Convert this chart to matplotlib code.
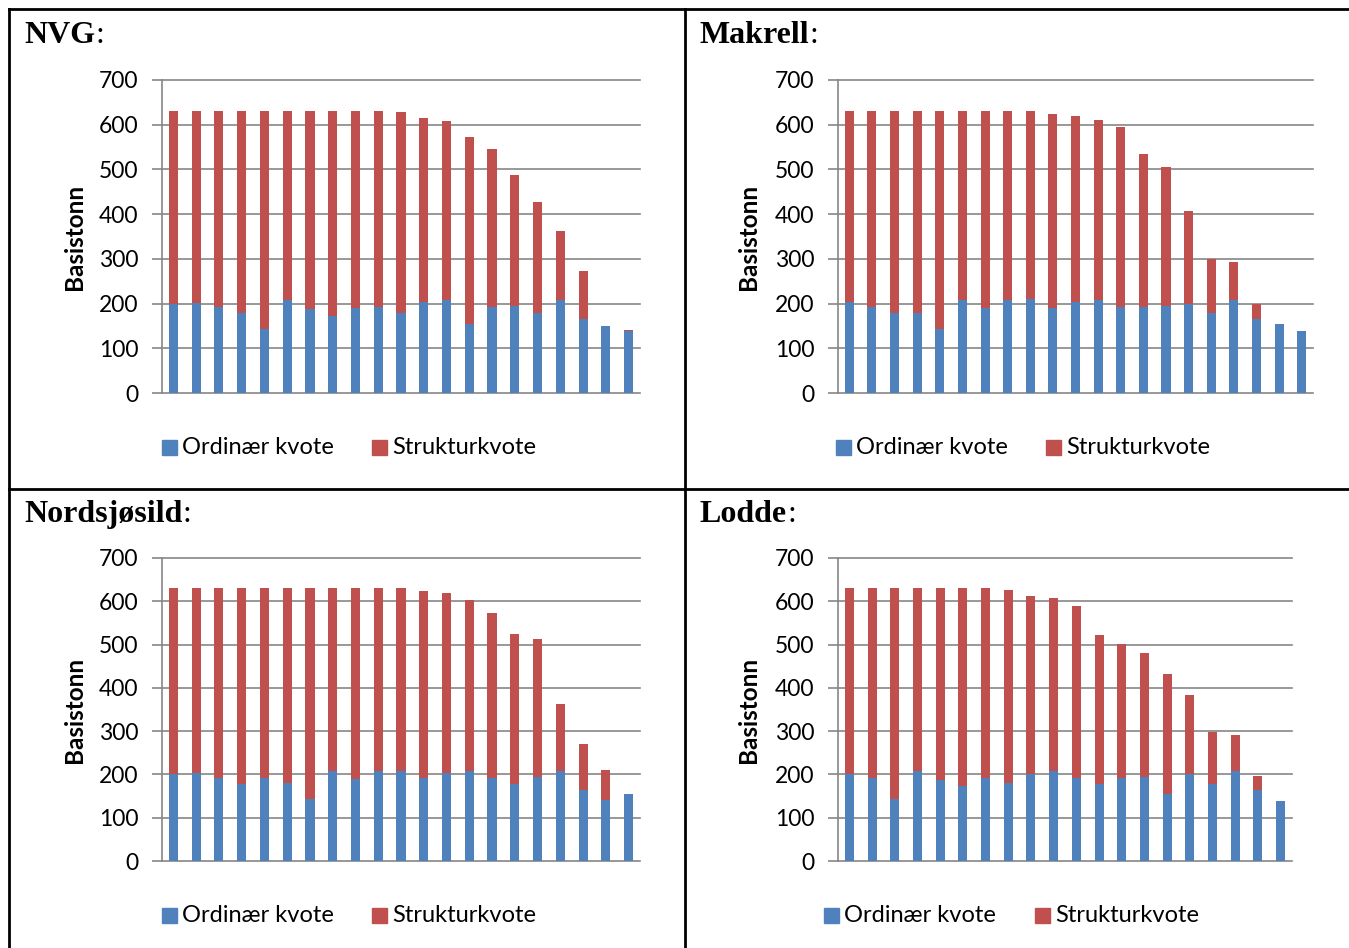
import matplotlib
matplotlib.use("Agg")
import matplotlib.pyplot as plt
from matplotlib.lines import Line2D
from matplotlib.patches import Rectangle

W, H = 1349, 948

series_names = ["Ordinær kvote", "Strukturkvote"]
colors = ["#4F81BD", "#C0504D"]
yticks = [0, 100, 200, 300, 400, 500, 600, 700]
ylabel = "Basistonn"

titles = ["NVG", "Makrell", "Nordsjøsild", "Lodde"]

nvg_ord = [198, 202, 192, 179, 144, 209, 188, 173, 190, 192, 180, 203, 209, 155, 192, 194, 179, 209, 165, 150, 138]
nvg_tot = [630, 630, 630, 630, 630, 630, 630, 630, 630, 630, 628, 614, 608, 573, 545, 488, 427, 363, 272, 150, 141]

mak_ord = [203, 192, 179, 180, 144, 209, 190, 209, 210, 190, 203, 209, 192, 192, 194, 199, 179, 209, 165, 155, 138]
mak_tot = [630, 630, 630, 630, 630, 630, 630, 630, 630, 625, 620, 611, 595, 535, 506, 407, 299, 293, 198, 155, 138]

nss_ord = [200, 203, 191, 178, 192, 181, 144, 208, 189, 208, 208, 191, 203, 208, 192, 178, 194, 208, 165, 140, 154]
nss_tot = [630, 630, 630, 630, 630, 630, 630, 630, 630, 630, 630, 624, 619, 602, 573, 524, 512, 362, 271, 210, 154]

lod_ord = [202, 191, 144, 208, 187, 174, 191, 181, 202, 208, 192, 178, 192, 194, 154, 200, 178, 208, 165, 138]
lod_tot = [630, 630, 630, 630, 630, 630, 630, 627, 613, 607, 589, 522, 502, 480, 432, 383, 299, 292, 197, 138]

panels = [
    (titles[0], nvg_ord, nvg_tot),
    (titles[1], mak_ord, mak_tot),
    (titles[2], nss_ord, nss_tot),
    (titles[3], lod_ord, lod_tot),
]

# pixel layout: (axes left, axes right, y of 700, y of 0, title x, title baseline,
#                ylabel x, legend blue x, legend red x, legend y center)
layout = [
    (162, 640, 80, 393, 24, 43, 74, 162, 372, 447),
    (838, 1313, 80, 393, 700, 43, 749, 836, 1046, 447),
    (162, 640, 558, 861, 24, 522, 74, 162, 372, 915),
    (838, 1292, 558, 861, 700, 522, 749, 824, 1035, 915),
]

fig = plt.figure(figsize=(W / 100, H / 100), dpi=100)
grid_c = "#868686"

def fx(x):
    return x / W

def fy(y):
    return 1 - y / H

for (title, ordv, totv), (l, r, yt, yb, tx, ty, ylx, lbx, lrx, lyc) in zip(panels, layout):
    ax = fig.add_axes([fx(l), fy(yb), (r - l) / W, (yb - yt) / H])
    n = len(ordv)
    x = list(range(n))
    struct = [max(t - o, 0) for o, t in zip(ordv, totv)]
    ax.bar(x, ordv, width=0.4, color=colors[0], zorder=3, label=series_names[0])
    ax.bar(x, struct, width=0.4, bottom=ordv, color=colors[1], zorder=3, label=series_names[1])
    ax.set_xlim(-0.5, n - 0.5)
    ax.set_ylim(0, 700)
    ax.set_yticks(yticks)
    ax.set_yticklabels([str(v) for v in yticks], fontfamily="Lato", fontsize=16.5)
    ax.set_xticks([])
    for s in ["top", "right"]:
        ax.spines[s].set_visible(False)
    for s in ["left", "bottom"]:
        ax.spines[s].set_color(grid_c)
        ax.spines[s].set_linewidth(1.2)
    ax.tick_params(axis="y", length=7, width=1.2, color=grid_c, pad=10)
    for v in yticks[1:]:
        ax.axhline(v, color=grid_c, lw=1.2, zorder=1, clip_on=False)
    # ylabel
    fig.text(fx(ylx), fy((yt + yb) / 2), ylabel, rotation=90, ha="center", va="center",
             fontfamily="Lato", fontweight="bold", fontsize=17.5)
    # title
    t = fig.text(fx(tx), fy(ty), title, ha="left", va="baseline",
                 fontfamily="Liberation Serif", fontweight="bold", fontsize=23)
    fig.canvas.draw()
    bb = t.get_window_extent()
    fig.text(bb.x1 / W, fy(ty), ":", ha="left", va="baseline",
             fontfamily="Liberation Serif", fontsize=23)
    # legend
    sq = 15
    for i, lx in enumerate([lbx, lrx]):
        fig.add_artist(Rectangle((fx(lx), fy(lyc + sq / 2)), sq / W, sq / H,
                                 transform=fig.transFigure, color=colors[i]))
        fig.text(fx(lx + sq + 5), fy(lyc), series_names[i], ha="left", va="center",
                 fontfamily="Lato", fontsize=17)

# frame lines
lw = 2
fig.add_artist(Line2D([fx(9), fx(1349)], [fy(9), fy(9)], color="black", lw=lw, transform=fig.transFigure))
fig.add_artist(Line2D([fx(9), fx(1349)], [fy(489), fy(489)], color="black", lw=lw, transform=fig.transFigure))
fig.add_artist(Line2D([fx(9), fx(9)], [fy(9), fy(948)], color="black", lw=lw, transform=fig.transFigure))
fig.add_artist(Line2D([fx(685), fx(685)], [fy(9), fy(948)], color="black", lw=lw, transform=fig.transFigure))

fig.savefig("out.png", dpi=100)
